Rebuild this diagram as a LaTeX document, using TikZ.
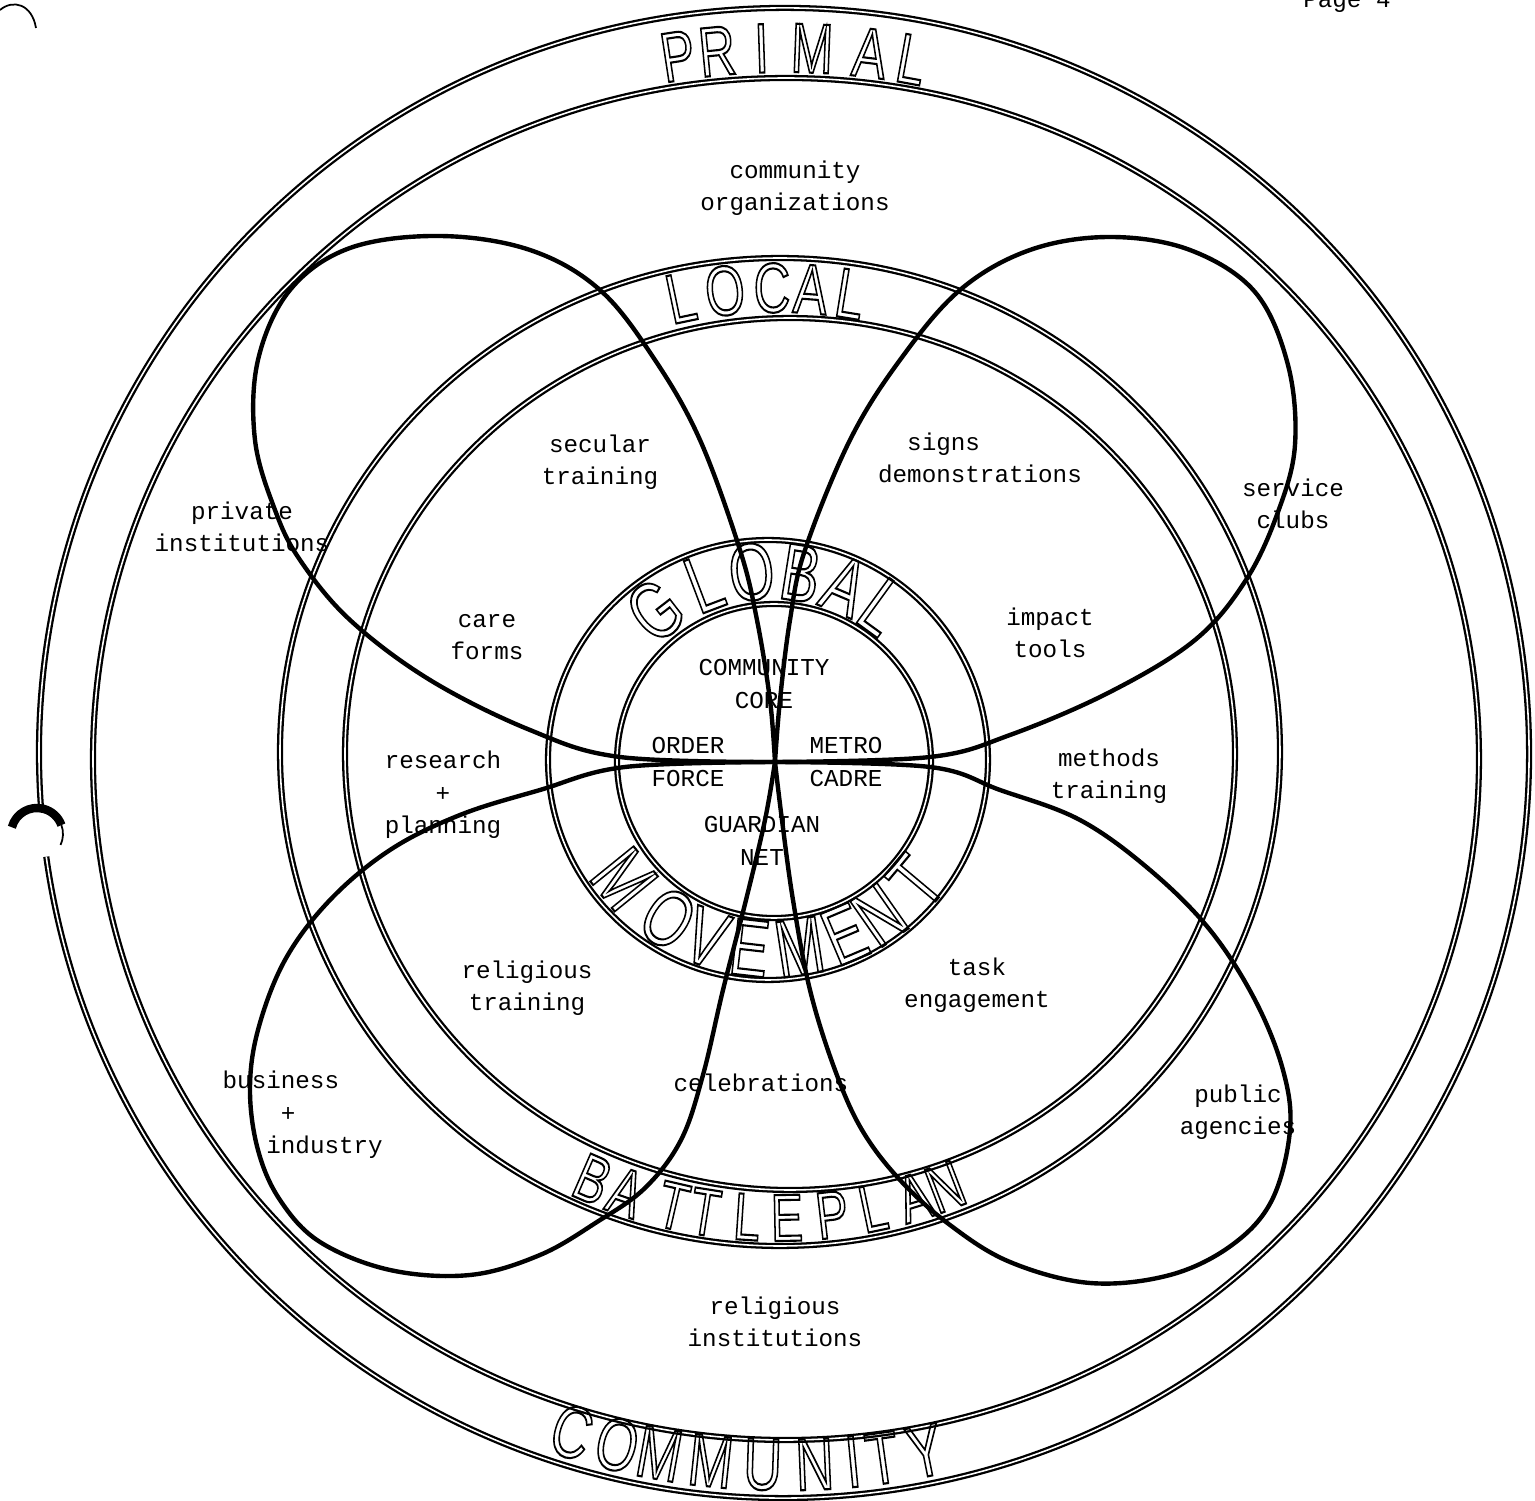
\documentclass[tikz,border=0pt]{standalone}
\usepackage{fontspec,graphicx}
\setmonofont{Liberation Mono}
\newfontfamily\handfont{Liberation Sans}
\usetikzlibrary{calc}
% hollow, narrow hand lettering
\newcommand{\nar}[1]{\special{pdf:literal direct 1 Tr 0.6 w}\scalebox{.72}[1]{#1}\special{pdf:literal direct 0 Tr}}
\tikzset{ring/.style={double,double distance=.45pt,line width=.65pt},
 petal/.style={line width=1.25pt,line join=round},
 lbl/.style={font=\ttfamily\fontsize{6.9}{9.2}\selectfont,align=center,inner sep=0pt},
 hand/.style={font=\handfont\fontsize{#1}{#1}\selectfont,inner sep=0pt},hand/.default=20}
\begin{document}
\begin{tikzpicture}
\useasboundingbox (-7.68,-7.45) rectangle (7.67,7.56);
% bands
\draw[ring] (0.16,0.03) ++(188:7.45) arc[start angle=188,end angle=544,radius=7.45];
\draw[ring] (0.18,-0.03) ellipse[x radius=6.93,y radius=6.81];
\draw[ring] (0.12,0.04) ellipse[x radius=5,y radius=4.94];
\draw[ring] (0.22,0.02) ellipse[x radius=4.45,y radius=4.36];
\draw[ring] (0,-0.04) circle[radius=2.2];
\draw[ring] (0.06,-0.05) circle[radius=1.57];
% petals, all from the hub
\coordinate (hub) at (0.07,-0.06);
\draw[petal] plot[smooth,tension=.6] coordinates {(0.07,-0.06) (0.02,0.56) (-0.11,1.36) (-0.28,2.06) (-0.68,3.16) (-1.13,3.96) (-1.68,4.66) (-2.38,5.06) (-3.28,5.2) (-4.18,5.08) (-4.78,4.66) (-5.1,3.96) (-5.13,3.16) (-4.93,2.46) (-4.68,1.96) (-4.18,1.36) (-3.38,0.76) (-2.38,0.26) (-1.48,-0.01) (0.07,-0.06)};
\draw[petal] plot[smooth,tension=.6] coordinates {(0.07,-0.06) (0.12,0.56) (0.22,1.36) (0.37,2.06) (0.82,3.16) (1.32,3.96) (1.92,4.66) (2.62,5.06) (3.42,5.19) (4.22,5.06) (4.87,4.64) (5.2,3.91) (5.27,3.11) (5.1,2.44) (4.78,1.76) (4.27,1.16) (3.42,0.64) (2.42,0.21) (1.62,-0.01) (0.07,-0.06)};
\draw[petal] plot[smooth,tension=.6] coordinates {(0.07,-0.06) (-1.43,-0.11) (-2.28,-0.34) (-3.08,-0.59) (-3.78,-0.94) (-4.38,-1.44) (-4.83,-2.04) (-5.1,-2.74) (-5.18,-3.34) (-5.1,-3.94) (-4.88,-4.44) (-4.48,-4.86) (-3.78,-5.14) (-2.98,-5.19) (-2.28,-4.99) (-1.71,-4.66) (-1.23,-4.32) (-0.87,-3.84) (-0.65,-3.19) (-0.45,-2.34) (-0.22,-1.44) (-0.03,-0.64) (0.07,-0.06)};
\draw[petal] plot[smooth,tension=.6] coordinates {(0.07,-0.06) (1.62,-0.11) (2.32,-0.34) (3.12,-0.64) (3.82,-1.14) (4.42,-1.74) (4.87,-2.44) (5.15,-3.14) (5.22,-3.74) (5.04,-4.44) (4.64,-4.89) (4.02,-5.19) (3.22,-5.27) (2.42,-5.06) (1.82,-4.69) (1.32,-4.24) (0.94,-3.74) (0.67,-3.14) (0.42,-2.34) (0.25,-1.44) (0.14,-0.64) (0.07,-0.06)};
% punched holes at the edge
\draw[line width=2.4pt] (-7.31,-0.78) ++(165:0.26) arc[start angle=165,end angle=20,radius=0.26];
\draw[line width=.5pt] (-7.31,-0.78) ++(20:0.26) arc[start angle=20,end angle=-25,radius=0.26];
\draw[line width=.5pt] (-7.68,7.46) .. controls (-7.55,7.57) and (-7.36,7.52) .. (-7.32,7.28);
% hand lettering
\foreach \ch/\a [count=\i] in {P/98.7,R/95.5,I/91.9,M/87.8,A/83.1,L/79.7}
  \node[hand,rotate=\a-90] (primal\i) at ($(0.17,0)+(\a:7.08)$) {\nar{\ch}};
\foreach \ch/\a [count=\i] in {L/101.8,O/96.3,C/90.5,A/85.7,L/80.8}
  \node[hand,rotate=\a-90] (local\i) at ($(0.08,0.03)+(\a:4.65)$) {\nar{\ch}};
\foreach \ch/\a [count=\i] in {G/127.7,L/110.7,O/95.9,B/81,A/67,L/54}
  \node[hand=23,rotate=\a-90] (global\i) at ($(0.03,-0.04)+(\a:1.89)$) {\nar{\ch}};
\foreach \ch/\a [count=\i] in {M/219,O/237,V/250,E/263.5,M/278.7,E/292.9,N/305,T/320}
  \node[hand=23,rotate=\a+90] (move\i) at ($(0.03,-0.04)+(\a:1.89)$) {\nar{\ch}};
\foreach \ch/\a [count=\i] in {B/246.5,A/250.9,T/257,T/261,L/266.2,E/271.1,P/276.7,L/281.8,A/287.1,N/291.1}
  \node[hand=19,rotate=\a+90] (battle\i) at ($(0.1,0.03)+(\a:4.65)$) {\nar{\ch}};
\foreach \ch/\a [count=\i] in {C/252.5,O/256.3,M/259.8,M/264,U/268.2,N/272.4,I/275.5,T/277.9,Y/281.4}
  \node[hand=21,rotate=\a+90] (comm\i) at ($(0.17,0)+(\a:7.09)$) {\nar{\ch}};
% typed labels
\node[lbl,anchor=base] (page) at (5.79,7.48) {Page 4};
\node[lbl] (comorg) at (0.27,5.68) {community\\organizations};
\node[lbl] (secular) at (-1.68,2.94) {secular\\training};
\node[lbl,align=left] (signs) at (2.12,2.98) {\phantom{de}signs\\demonstrations};
\node[lbl] (service) at (5.25,2.52) {service\\clubs};
\node[lbl] (private) at (-5.26,2.29) {private\\institutions};
\node[lbl] (care) at (-2.81,1.19) {care\\forms};
\node[lbl] (impact) at (2.82,1.23) {impact\\tools};
\node[lbl] (core) at (-0.04,0.72) {COMMUNITY\\CORE};
\node[lbl] (order) at (-0.8,-0.06) {ORDER\\FORCE};
\node[lbl] (metro) at (0.78,-0.06) {METRO\\CADRE};
\node[lbl] (guard) at (-0.06,-0.85) {GUARDIAN\\NET};
\node[lbl] (research) at (-3.25,-0.39) {research\\+\\planning};
\node[lbl] (methods) at (3.41,-0.2) {methods\\training};
\node[lbl] (reltrain) at (-2.41,-2.32) {religious\\training};
\node[lbl] (task) at (2.09,-2.29) {task\\engagement};
\node[lbl,align=left,anchor=west] (business) at (-5.46,-3.59) {business\\\phantom{busi}+\\\phantom{bus}industry};
\node[lbl] (celeb) at (-0.07,-3.27) {celebrations};
\node[lbl] (public) at (4.7,-3.56) {public\\agencies};
\node[lbl] (relinst) at (0.07,-5.66) {religious\\institutions};
\end{tikzpicture}
\end{document}
